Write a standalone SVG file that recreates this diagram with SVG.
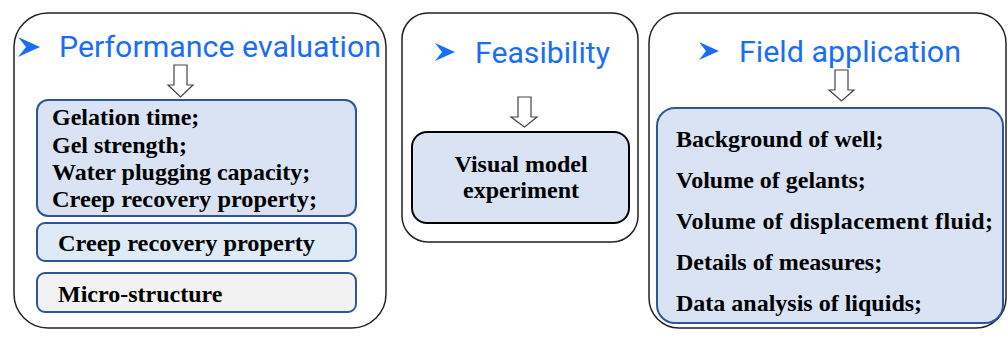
<svg xmlns="http://www.w3.org/2000/svg" width="1008" height="338" viewBox="0 0 1008 338">
<style>
.panel{fill:#fff;stroke:#222;stroke-width:1.5}
.title{font-family:Roboto,"Liberation Sans",sans-serif;font-size:30px;fill:#1a6ef5}
.bullet{fill:#1a6ef5}
.harrow{fill:#fff;stroke:#444;stroke-width:1.2}
.box{stroke:#2f5597;stroke-width:2}
.t{font-family:"Liberation Serif","Times New Roman",serif;font-size:24px;font-weight:bold;fill:#000}
</style>
<rect width="1008" height="338" fill="#fff"/>
<g id="performance">
<rect class="panel" x="14" y="13" width="372" height="315" rx="34"/>
<polygon class="bullet" points="18,37 40,47 18,57 26,47"/>
<text class="title" x="59" y="57" textLength="322" lengthAdjust="spacingAndGlyphs">Performance evaluation</text>
<g id="perf-items">
<rect class="box" x="37" y="100" width="319" height="116" rx="11" fill="#dae3f3"/>
<text class="t" x="52" y="125">Gelation time;</text>
<text class="t" x="52" y="153">Gel strength;</text>
<text class="t" x="52" y="180">Water plugging capacity;</text>
<text class="t" x="52" y="207" textLength="265" lengthAdjust="spacingAndGlyphs">Creep recovery property;</text>
</g>
<g id="creep">
<rect class="box" x="37" y="223" width="319" height="38" rx="8" fill="#deebf7"/>
<text class="t" x="58" y="251" textLength="257" lengthAdjust="spacingAndGlyphs">Creep recovery property</text>
</g>
<g id="micro">
<rect class="box" x="37" y="273" width="319" height="39" rx="8" fill="#f2f2f2"/>
<text class="t" x="58" y="302">Micro-structure</text>
</g>
</g>
<g id="feasibility">
<rect class="panel" x="402" y="13" width="236" height="229" rx="26"/>
<polygon class="bullet" points="435,43 455,52 435,61 442,52"/>
<text class="title" x="475" y="63" textLength="135" lengthAdjust="spacingAndGlyphs">Feasibility</text>
<g id="visual">
<rect x="412" y="132" width="217" height="91" rx="15" fill="#dae3f3" stroke="#000" stroke-width="2"/>
<text class="t" x="521" y="172" text-anchor="middle">Visual model</text>
<text class="t" x="521" y="198" text-anchor="middle">experiment</text>
</g>
</g>
<g id="field">
<rect class="panel" x="649" y="13" width="357" height="315" rx="30"/>
<polygon class="bullet" points="699,42 719,51 699,60 706,51"/>
<text class="title" x="739" y="62" textLength="222" lengthAdjust="spacingAndGlyphs">Field application</text>
<g id="field-items">
<rect class="box" x="657" y="108" width="346" height="215" rx="18" fill="#dae3f3"/>
<text class="t" x="676" y="147">Background of well;</text>
<text class="t" x="676" y="188">Volume of gelants;</text>
<text class="t" x="676" y="229" textLength="317" lengthAdjust="spacing">Volume of displacement fluid;</text>
<text class="t" x="676" y="270">Details of measures;</text>
<text class="t" x="676" y="311">Data analysis of liquids;</text>
</g>
</g>
<g id="connectors">
<polygon class="harrow" points="174,65 187,65 187,85 193,85 180.5,97 168,85 174,85"/>
<polygon class="harrow" points="518,97 531,97 531,117 537,117 524.5,127 511,117 518,117"/>
<polygon class="harrow" points="835,70 848,70 848,90 854,90 841.5,101 829,90 835,90"/>
</g>
</svg>
